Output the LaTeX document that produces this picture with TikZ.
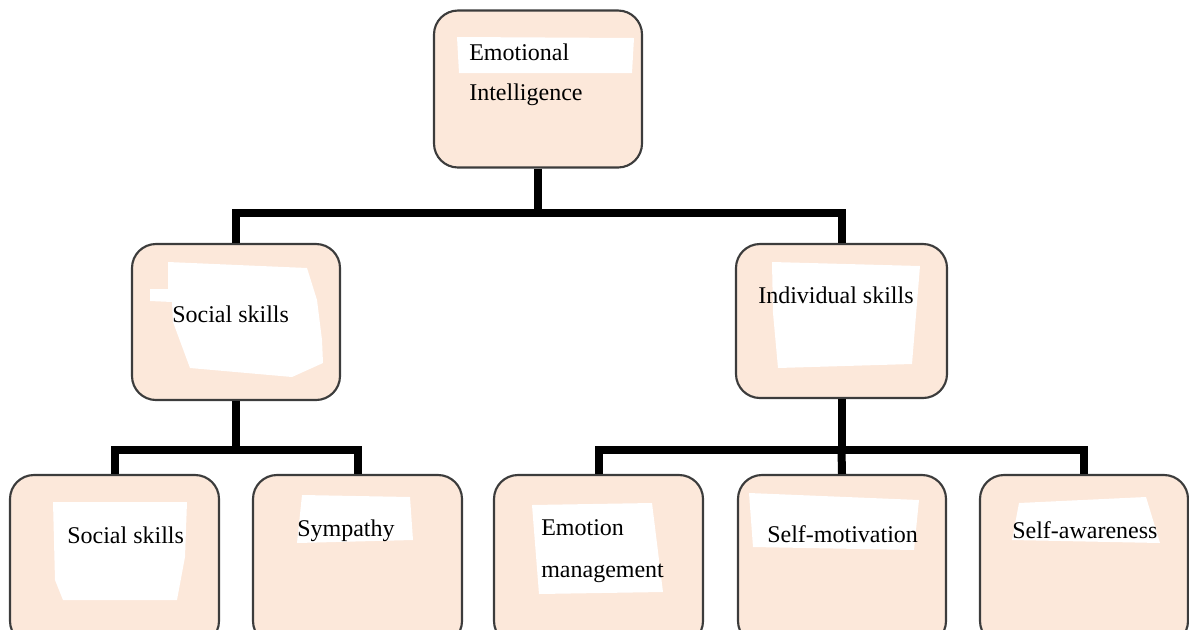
\documentclass[tikz,border=0pt]{standalone}
\usepackage{fontspec}
\setmainfont{Liberation Serif}
\definecolor{peach}{RGB}{252,232,218}
\definecolor{edge}{RGB}{60,60,60}
\begin{document}
\begin{tikzpicture}[x=0.75pt,y=-0.75pt,
  box/.style={draw=edge,line width=1.6pt,fill=peach,rounded corners=18pt,inner sep=0pt},
  patch/.style={fill=white,draw=none},
  lbl/.style={anchor=base west,inner sep=0pt,font=\fontsize{18}{20}\selectfont},
  conn/.style={line width=6pt,black}]
\useasboundingbox (0,0) rectangle (1189,629);
\clip (0,0) rectangle (1189,629);
% boxes
\node[box,minimum width=156pt,minimum height=117.75pt] (ei) at (538,89) {};
\node[box,minimum width=156pt,minimum height=117pt] (soc) at (236,322) {};
\node[box,minimum width=158.25pt,minimum height=115.5pt] (ind) at (841.5,321) {};
\node[box,minimum width=156.75pt,minimum height=127.5pt] (b1) at (114.5,560) {};
\node[box,minimum width=156.75pt,minimum height=127.5pt] (b2) at (357.5,560) {};
\node[box,minimum width=156.75pt,minimum height=127.5pt] (b3) at (598.5,560) {};
\node[box,minimum width=156pt,minimum height=127.5pt] (b4) at (842,560) {};
\node[box,minimum width=156pt,minimum height=127.5pt] (b5) at (1084,560) {};
% white patches
\fill[patch] (457,37) -- (634,38) -- (632,73) -- (459,73) -- cycle;
\fill[patch] (168,262) -- (307,268) -- (317,300) -- (322,340) -- (323,363) -- (292,377) -- (190,368) -- (173,322) -- (172,302) -- (150,301) -- (150,289) -- (168,289) -- cycle;
\fill[patch] (772,262) -- (920,266) -- (917,303) -- (912,364) -- (778,368) -- (773,313) -- cycle;
\fill[patch] (53,502) -- (187,502) -- (185,557) -- (177,600) -- (63,600) -- (55,580) -- cycle;
\fill[patch] (302,495) -- (410,497) -- (413,540) -- (297,543) -- cycle;
\fill[patch] (532,505) -- (652,503) -- (663,592) -- (539,594) -- cycle;
\fill[patch] (749,493) -- (919,500) -- (914,550) -- (753,547) -- cycle;
\fill[patch] (1019,503) -- (1146,497) -- (1160,543) -- (1012,540) -- cycle;
% labels
\node[lbl] (t1) at (469,60) {Emotional};
\node[lbl] (t2) at (469,100) {Intelligence};
\node[lbl] (t3) at (172,322) {Social skills};
\node[lbl] (t4) at (758,303) {Individual skills};
\node[lbl] (t5) at (67,543) {Social skills};
\node[lbl] (t6) at (297,536) {Sympathy};
\node[lbl] (t7) at (541,535) {Emotion};
\node[lbl] (t8) at (541,577) {management};
\node[lbl] (t9) at (767,542) {Self-motivation};
\node[lbl] (t10) at (1012,538) {Self-awareness};
% connectors
\coordinate (j1) at (538,213);
\coordinate (j2) at (236,450);
\coordinate (j3) at (841.5,450);
\draw[conn] (ei.south) -- (j1);
\draw[conn] (soc.north) |- (j1) -| (ind.north);
\draw[conn] (soc.south) -- (j2);
\draw[conn] (b1.north) |- (j2) -| (b2.north);
\draw[conn] (ind.south) -- (j3);
\draw[conn] (b3.north) |- (j3) -| (b5.north);
\draw[conn] (j3) -- (b4.north);
\end{tikzpicture}
\end{document}
